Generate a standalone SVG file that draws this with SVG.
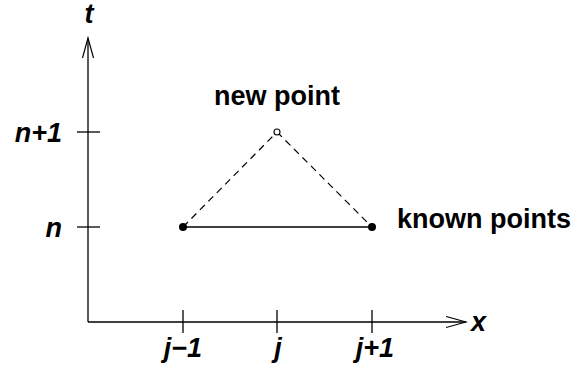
<svg xmlns="http://www.w3.org/2000/svg" width="578" height="366" viewBox="0 0 578 366">
<style>
.ax{stroke:#000;stroke-width:1.3;fill:none}
.lbl{font-family:"Liberation Sans",Arial,sans-serif;font-weight:bold;font-size:27px;fill:#000}
.it{font-style:italic}
</style>
<defs>
<marker id="arr" markerWidth="22" markerHeight="13" refX="20" refY="6" orient="auto" markerUnits="userSpaceOnUse">
<path d="M0,0.5 L20,6 L0,11.5" fill="none" stroke="#000" stroke-width="1.2"/>
</marker>
</defs>
<g id="axes" class="ax">
<line x1="88" y1="322" x2="88" y2="38" marker-end="url(#arr)"/>
<line x1="88" y1="322" x2="466" y2="322" marker-end="url(#arr)"/>
<line x1="77" y1="132" x2="100" y2="132"/>
<line x1="77" y1="227" x2="100" y2="227"/>
<line x1="183" y1="310" x2="183" y2="333"/>
<line x1="277" y1="310" x2="277" y2="333"/>
<line x1="372" y1="310" x2="372" y2="333"/>
</g>
<g id="connectors">
<line x1="183" y1="227" x2="372" y2="227" stroke="#000" stroke-width="1.3"/>
<line x1="183" y1="227" x2="277" y2="132" stroke="#000" stroke-width="1.2" stroke-dasharray="7,5"/>
<line x1="277" y1="132" x2="372" y2="227" stroke="#000" stroke-width="1.2" stroke-dasharray="7,5"/>
</g>
<g id="p-left"><circle cx="183" cy="227" r="4" fill="#000"/></g>
<g id="p-right"><circle cx="372" cy="227" r="4" fill="#000"/></g>
<g id="p-new"><circle cx="277" cy="132" r="3" fill="#fff" stroke="#000" stroke-width="1.1"/></g>
<g id="labels" class="lbl">
<text x="89" y="23" text-anchor="middle" class="it">t</text>
<text x="62" y="142" text-anchor="end" class="it">n+1</text>
<text x="62" y="237" text-anchor="end" class="it">n</text>
<text x="471" y="331" class="it">x</text>
<text x="183" y="357" text-anchor="middle" class="it">j−1</text>
<text x="278" y="357" text-anchor="middle" class="it">j</text>
<text x="375" y="357" text-anchor="middle" class="it">j+1</text>
<text x="277" y="105" text-anchor="middle">new point</text>
<text x="397" y="228">known points</text>
</g>
</svg>
